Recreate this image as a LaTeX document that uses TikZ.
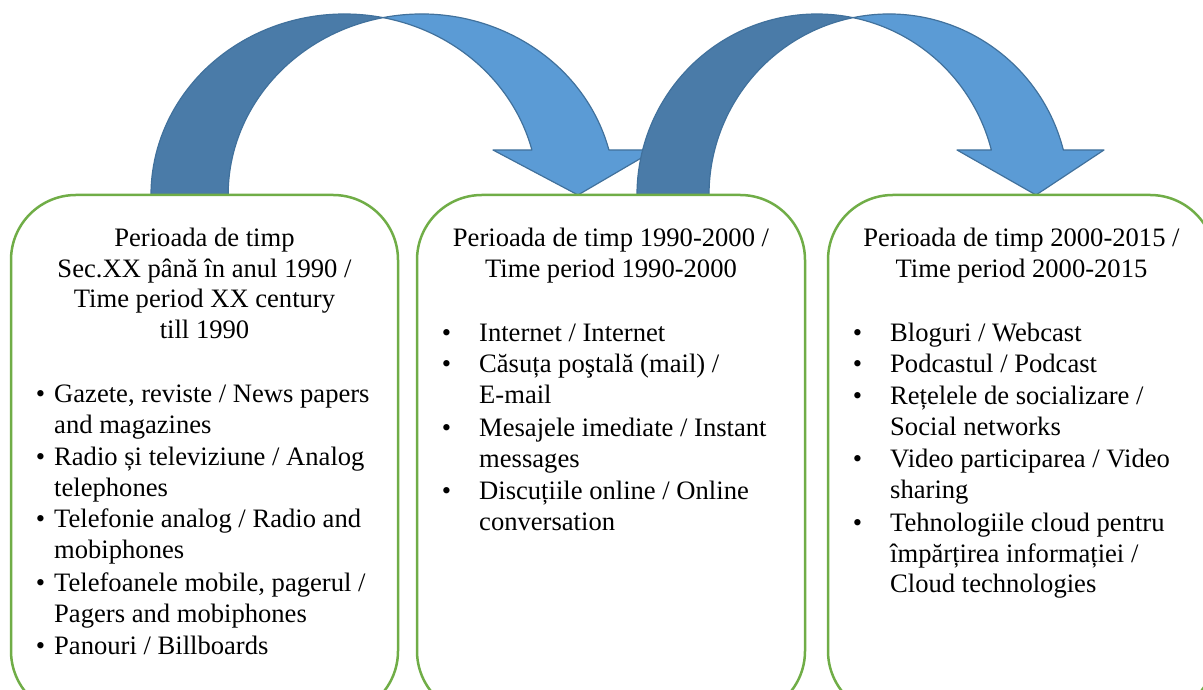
\documentclass[tikz,border=0pt]{standalone}
\usepackage{fontspec}
\setmainfont{Liberation Serif}
\definecolor{boxgreen}{HTML}{70AD47}
\definecolor{arrlight}{HTML}{5B9BD5}
\definecolor{arrdark}{HTML}{4A7BA8}
\definecolor{arredge}{HTML}{41719C}
\tikzset{
  period/.style={draw=boxgreen, line width=2.5pt, rounded corners=65pt},
  frontband/.style={fill=arrlight, draw=arredge, line width=1.2pt, line join=round},
  backband/.style={fill=arrdark, draw=arredge, line width=1.2pt, line join=round},
  head/.style={anchor=base, inner sep=0pt, font=\fontsize{26.6}{30.5}\selectfont},
  item/.style={anchor=base west, inner sep=0pt, font=\fontsize{26.6}{30.5}\selectfont},
}
\newcommand{\hd}[1]{\parbox[t]{380pt}{\centering #1}}
\newcommand{\itm}[2]{\parbox[t]{330pt}{\raggedright\leavevmode\llap{\textbullet\hspace{#1}}#2}}
\begin{document}
\begin{tikzpicture}[x=1pt,y=1pt]
\useasboundingbox (0,0) rectangle (1203,690);
\clip (0,0) rectangle (1203,690);
% ---------- arrow 1 ----------
\path[backband] (151,495) arc[start angle=180, end angle=78.5, x radius=193.5, y radius=181]
  arc[start angle=101.5, end angle=180, x radius=193.5, y radius=181] -- cycle;
\path[frontband] ([shift={(421.5,495)}]101.5:193.5 and 181)
  arc[start angle=101.5, end angle=14.4, x radius=193.5, y radius=181]
  -- (655,540) -- (578,495) -- (493,540)
  -- ([shift={(344.5,495)}]14.4:193.5 and 181)
  arc[start angle=14.4, end angle=78.5, x radius=193.5, y radius=181] -- cycle;
% ---------- arrow 2 ----------
\path[backband] (637,495) arc[start angle=180, end angle=78.46, x radius=180, y radius=181]
  arc[start angle=101.54, end angle=180, x radius=180, y radius=181] -- cycle;
\path[frontband] ([shift={(889,495)}]101.54:180 and 181)
  arc[start angle=101.54, end angle=14.4, x radius=180, y radius=181]
  -- (1104,540) -- (1036,495) -- (957,540)
  -- ([shift={(817,495)}]14.4:180 and 181)
  arc[start angle=14.4, end angle=78.46, x radius=180, y radius=181] -- cycle;
% ---------- boxes ----------
\draw[period] (11,-26) rectangle (398,495);
\draw[period] (417,-26) rectangle (805,495);
\draw[period] (828,-26) rectangle (1215,495);
% ---------- box 1 ----------
\node[head] (h1) at (204.5,443) {\hd{Perioada de timp\\Sec.XX până în anul 1990 /\\Time period XX century\\till 1990}};
\node[item] (a1) at (54,287) {\itm{9pt}{Gazete, reviste / News papers\\and magazines}};
\node[item] (a2) at (54,224) {\itm{9pt}{Radio și televiziune / Analog\\telephones}};
\node[item] (a3) at (54,162) {\itm{9pt}{Telefonie analog / Radio and\\mobiphones}};
\node[item] (a4) at (54,98) {\itm{9pt}{Telefoanele mobile, pagerul /\\Pagers and mobiphones}};
\node[item] (a5) at (54,35) {\itm{9pt}{Panouri / Billboards}};
% ---------- box 2 ----------
\node[head] (h2) at (611,443) {\hd{Perioada de timp 1990-2000 /\\Time period 1990-2000}};
\node[item] (b1) at (479,348) {\itm{28pt}{Internet / Internet}};
\node[item] (b2) at (479,317) {\itm{28pt}{Căsuța poştală (mail) /\\E-mail}};
\node[item] (b3) at (479,253) {\itm{28pt}{Mesajele imediate / Instant\\messages}};
\node[item] (b4) at (479,190) {\itm{28pt}{Discuțiile online / Online\\conversation}};
% ---------- box 3 ----------
\node[head] (h3) at (1021.5,443) {\hd{Perioada de timp 2000-2015 /\\Time period 2000-2015}};
\node[item] (c1) at (890,348) {\itm{28pt}{Bloguri / Webcast}};
\node[item] (c2) at (890,317) {\itm{28pt}{Podcastul / Podcast}};
\node[item] (c3) at (890,285) {\itm{28pt}{Rețelele de socializare /\\Social networks}};
\node[item] (c4) at (890,222) {\itm{28pt}{Video participarea / Video\\sharing}};
\node[item] (c5) at (890,158) {\itm{28pt}{Tehnologiile cloud pentru\\împărțirea informației /\\Cloud technologies}};
\end{tikzpicture}
\end{document}
